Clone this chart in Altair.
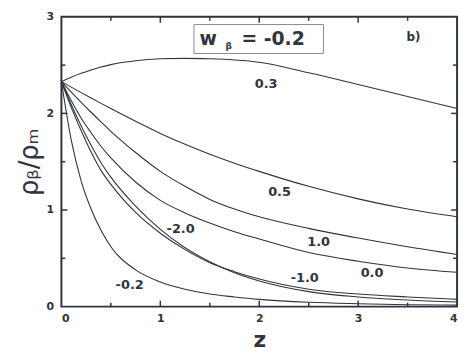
import altair as alt
import pandas as pd

# shared redshift grid
Z = [0, 0.1, 0.2, 0.3, 0.4, 0.5, 0.75, 1.0, 1.25, 1.5, 1.75, 2.0, 2.5, 3.0, 3.5, 4.0]

# curve values (rho_beta / rho_m)
c_03 = [2.33, 2.375, 2.415, 2.45, 2.48, 2.505, 2.545, 2.565, 2.57, 2.565, 2.553, 2.53, 2.42, 2.30, 2.175, 2.05]
c_05 = [2.33, 2.272, 2.215, 2.159, 2.104, 2.05, 1.918, 1.793, 1.68, 1.578, 1.485, 1.40, 1.245, 1.115, 1.01, 0.93]
c_10 = [2.33, 2.22, 2.115, 2.012, 1.912, 1.815, 1.595, 1.40, 1.245, 1.11, 1.01, 0.93, 0.81, 0.71, 0.62, 0.54]
c_00 = [2.33, 2.13, 1.95, 1.80, 1.66, 1.54, 1.29, 1.10, 0.97, 0.865, 0.775, 0.70, 0.56, 0.47, 0.40, 0.355]
c_m10 = [2.33, 2.06, 1.82, 1.60, 1.41, 1.265, 0.975, 0.76, 0.59, 0.455, 0.362, 0.285, 0.18, 0.13, 0.10, 0.075]
c_m20 = [2.33, 2.09, 1.87, 1.67, 1.49, 1.34, 1.04, 0.80, 0.61, 0.465, 0.35, 0.265, 0.155, 0.10, 0.068, 0.048]
c_m02 = [2.33, 1.72, 1.30, 1.01, 0.79, 0.62, 0.38, 0.255, 0.18, 0.13, 0.10, 0.075, 0.045, 0.03, 0.02, 0.015]

series = {"0.3": c_03, "0.5": c_05, "1.0": c_10, "0.0": c_00,
          "-1.0": c_m10, "-2.0": c_m20, "-0.2": c_m02}

# curve labels
lab_text = ["0.3", "0.5", "1.0", "0.0", "-1.0", "-2.0", "-0.2"]
lab_z = [2.07, 2.205, 2.60, 3.14, 2.46, 1.205, 0.69]
lab_y = [2.30, 1.19, 0.665, 0.343, 0.30, 0.80, 0.225]

# ticks
x_major = [1, 2, 3]
x_minor = [0.5, 1.5, 2.5, 3.5]
y_major = [1, 2]
y_minor = [0.5, 1.5, 2.5]

rows = []
for name, vals in series.items():
    for z, v in zip(Z, vals):
        rows.append({"s": name, "z": z, "v": v})
df = pd.DataFrame(rows)

W, H = 400, 293
LINE = "#30343f"
FONT = "DejaVu Sans"

xs = alt.Scale(domain=[0, 4], nice=False, zero=False)
ys = alt.Scale(domain=[0, 3], nice=False, zero=False)

XAX = alt.Axis(values=[0, 1, 2, 3, 4], ticks=False, domain=False, grid=False,
               labelFont=FONT, labelFontWeight="bold", labelFontSize=11,
               labelColor=LINE, labelPadding=6, title="z",
               titleFont=FONT, titleFontSize=22, titleFontWeight="bold",
               titleColor=LINE, titlePadding=6)
YAX = alt.Axis(values=[0, 1, 2, 3], ticks=False, domain=False, grid=False,
               labelFont=FONT, labelFontWeight="bold", labelFontSize=11,
               labelColor=LINE, labelPadding=8, title="ρᵦ/ρₘ",
               titleFont=FONT, titleFontSize=26, titleFontWeight="normal",
               titleColor=LINE, titlePadding=4)


def X(f):
    return alt.X(f, scale=xs, axis=XAX)


def Y(f):
    return alt.Y(f, scale=ys, axis=YAX)


lines = alt.Chart(df).mark_line(color=LINE, strokeWidth=1.1, interpolate="monotone").encode(
    x=X("z:Q"), y=Y("v:Q"), detail="s:N",
)

labels = alt.Chart(pd.DataFrame({"t": lab_text, "z": lab_z, "v": lab_y})).mark_text(
    font=FONT, fontWeight="bold", fontSize=13, color=LINE, align="center", baseline="middle"
).encode(x=X("z:Q"), y=Y("v:Q"), text="t:N")

box = alt.Chart(pd.DataFrame({"z": [1.34], "z2": [2.65], "v": [2.62], "v2": [2.92]})).mark_rect(
    fill="white", stroke="#8c8c8c", strokeWidth=1
).encode(x=X("z:Q"), x2="z2:Q", y=Y("v:Q"), y2="v2:Q")

box_txt = alt.Chart(pd.DataFrame({
    "t": ["w", "β", "= -0.2"], "z": [1.397, 1.66, 1.82], "v": [2.712, 2.665, 2.712],
    "fs": [19, 9, 19]})).mark_text(
    font=FONT, fontWeight="bold", color=LINE, align="left", baseline="alphabetic"
).encode(x=X("z:Q"), y=Y("v:Q"), text="t:N", size=alt.Size("fs:Q", scale=None, legend=None))

btxt = alt.Chart(pd.DataFrame({"t": ["b)"], "z": [3.56], "v": [2.794]})).mark_text(
    font=FONT, fontWeight="bold", fontSize=12, color=LINE, align="center", baseline="middle"
).encode(x=X("z:Q"), y=Y("v:Q"), text="t:N")


def yt(vals, x0, x1):
    return alt.Chart(pd.DataFrame({"v": vals})).mark_rule(color=LINE, strokeWidth=1.5).encode(
        y=Y("v:Q"), x=alt.value(x0), x2=alt.value(x1))


def xt(vals, y0, y1):
    return alt.Chart(pd.DataFrame({"z": vals})).mark_rule(color=LINE, strokeWidth=1.5).encode(
        x=X("z:Q"), y=alt.value(y0), y2=alt.value(y1))


ticks = [
    yt(y_major, 0, 6), yt(y_minor, 0, 4), yt(y_major, W, W - 6), yt(y_minor, W, W - 4),
    xt(x_major, H, H - 6), xt(x_minor, H, H - 4), xt(x_major, 0, 6), xt(x_minor, 0, 4),
]

chart = alt.layer(lines, box, box_txt, btxt, labels, *ticks).properties(
    width=W, height=H, autosize="none",
    padding={"left": 54, "top": 7, "right": 6, "bottom": 45},
).configure(background="white").configure_view(stroke=LINE, strokeWidth=2)

chart.save("out.html", embed_options={"renderer": "svg", "actions": False})
